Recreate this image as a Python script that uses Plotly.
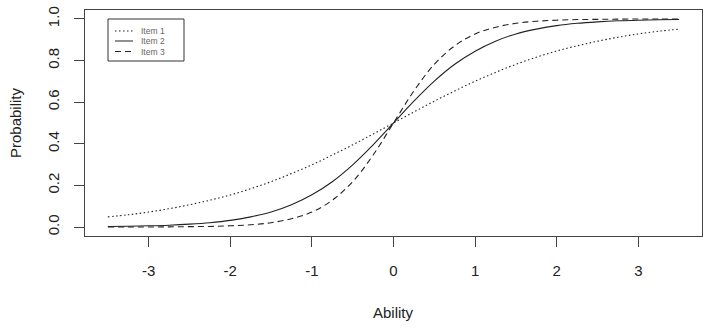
import plotly.graph_objects as go

ability = [-3.5, -3.25, -3.0, -2.75, -2.5, -2.25, -2.0, -1.75, -1.5, -1.25, -1.0, -0.75, -0.5, -0.25,
           0.0, 0.25, 0.5, 0.75, 1.0, 1.25, 1.5, 1.75, 2.0, 2.25, 2.5, 2.75, 3.0, 3.25, 3.5]
item1 = [0.049, 0.059, 0.072, 0.088, 0.107, 0.129, 0.154, 0.184, 0.218, 0.257, 0.299, 0.346, 0.395, 0.447,
         0.500, 0.553, 0.605, 0.654, 0.701, 0.743, 0.782, 0.816, 0.846, 0.871, 0.893, 0.912, 0.928, 0.941, 0.951]
item2 = [0.003, 0.004, 0.006, 0.009, 0.014, 0.021, 0.032, 0.049, 0.072, 0.107, 0.155, 0.218, 0.299, 0.395,
         0.500, 0.605, 0.701, 0.782, 0.845, 0.893, 0.928, 0.951, 0.968, 0.979, 0.986, 0.991, 0.994, 0.996, 0.997]
item3 = [0.000, 0.000, 0.000, 0.001, 0.002, 0.003, 0.006, 0.011, 0.021, 0.040, 0.072, 0.129, 0.218, 0.346,
         0.500, 0.654, 0.782, 0.871, 0.928, 0.960, 0.979, 0.989, 0.994, 0.997, 0.998, 0.999, 1.000, 1.000, 1.000]
series = [("Item 1", item1, "1.5px,2.5px"), ("Item 2", item2, "solid"), ("Item 3", item3, "6px,4px")]
xticks = [-3, -2, -1, 0, 1, 2, 3]
xticklabels = ["-3", "-2", "-1", "0", "1", "2", "3"]
yticks = [0.0, 0.2, 0.4, 0.6, 0.8, 1.0]
yticklabels = ["0.0", "0.2", "0.4", "0.6", "0.8", "1.0"]

W, H = 708, 330
L, R, T, B = 85, 702, 10, 236
def px(x): return (x - L) / (R - L)
def py(y): return (B - y) / (B - T)

FONT = "Liberation Sans, Arial, sans-serif"
fig = go.Figure()
for name, vals, dash in series:
    fig.add_trace(go.Scatter(x=ability, y=vals, mode="lines", name=name,
                             line=dict(color="#222", width=1.1, dash=dash, shape="spline"),
                             showlegend=False))

fig.update_layout(
    width=W, height=H, margin=dict(l=L, r=W - R, t=T, b=H - B),
    paper_bgcolor="white", plot_bgcolor="white",
    font=dict(family=FONT, size=15, color="#222"),
    xaxis=dict(range=[-3.78, 3.78], tickvals=xticks, ticktext=xticklabels, showgrid=False, zeroline=False,
               showline=True, mirror=True, linecolor="#444", linewidth=1.2,
               ticks="outside", ticklen=10, tickcolor="#444", tickwidth=1.2,
               ticklabelstandoff=11),
    yaxis=dict(range=[-0.043, 1.043], tickvals=yticks, ticktext=yticklabels, showgrid=False,
               zeroline=False, showline=True, mirror=True, linecolor="#444", linewidth=1.2,
               ticks="outside", ticklen=10, tickcolor="#444", tickwidth=1.2,
               tickangle=-90, ticklabelstandoff=9),
)

annotations = [
    dict(text="Ability", x=px(393), y=py(312), xref="paper", yref="paper", showarrow=False,
         xanchor="center", yanchor="middle", font=dict(size=15, family=FONT, color="#222")),
    dict(text="Probability", x=px(15), y=py(123), xref="paper", yref="paper", showarrow=False,
         textangle=-90, xanchor="center", yanchor="middle", font=dict(size=15, family=FONT, color="#222")),
]
shapes = [dict(type="rect", xref="paper", yref="paper", x0=px(108), x1=px(184), y0=py(61), y1=py(19),
               line=dict(color="#333", width=1), fillcolor="white", layer="above")]
rows = [31, 41, 51.5]
for (name, _, dash), ry in zip(series, rows):
    shapes.append(dict(type="line", xref="paper", yref="paper", x0=px(115), x1=px(133), y0=py(ry), y1=py(ry),
                       line=dict(color="#222", width=1, dash=dash), layer="above"))
    annotations.append(dict(text=name, x=px(139), y=py(ry), xref="paper", yref="paper", showarrow=False,
                            xanchor="left", yanchor="middle", font=dict(size=8.5, family=FONT, color="#666")))
fig.update_layout(annotations=annotations, shapes=shapes)
fig.write_html("out.html")
